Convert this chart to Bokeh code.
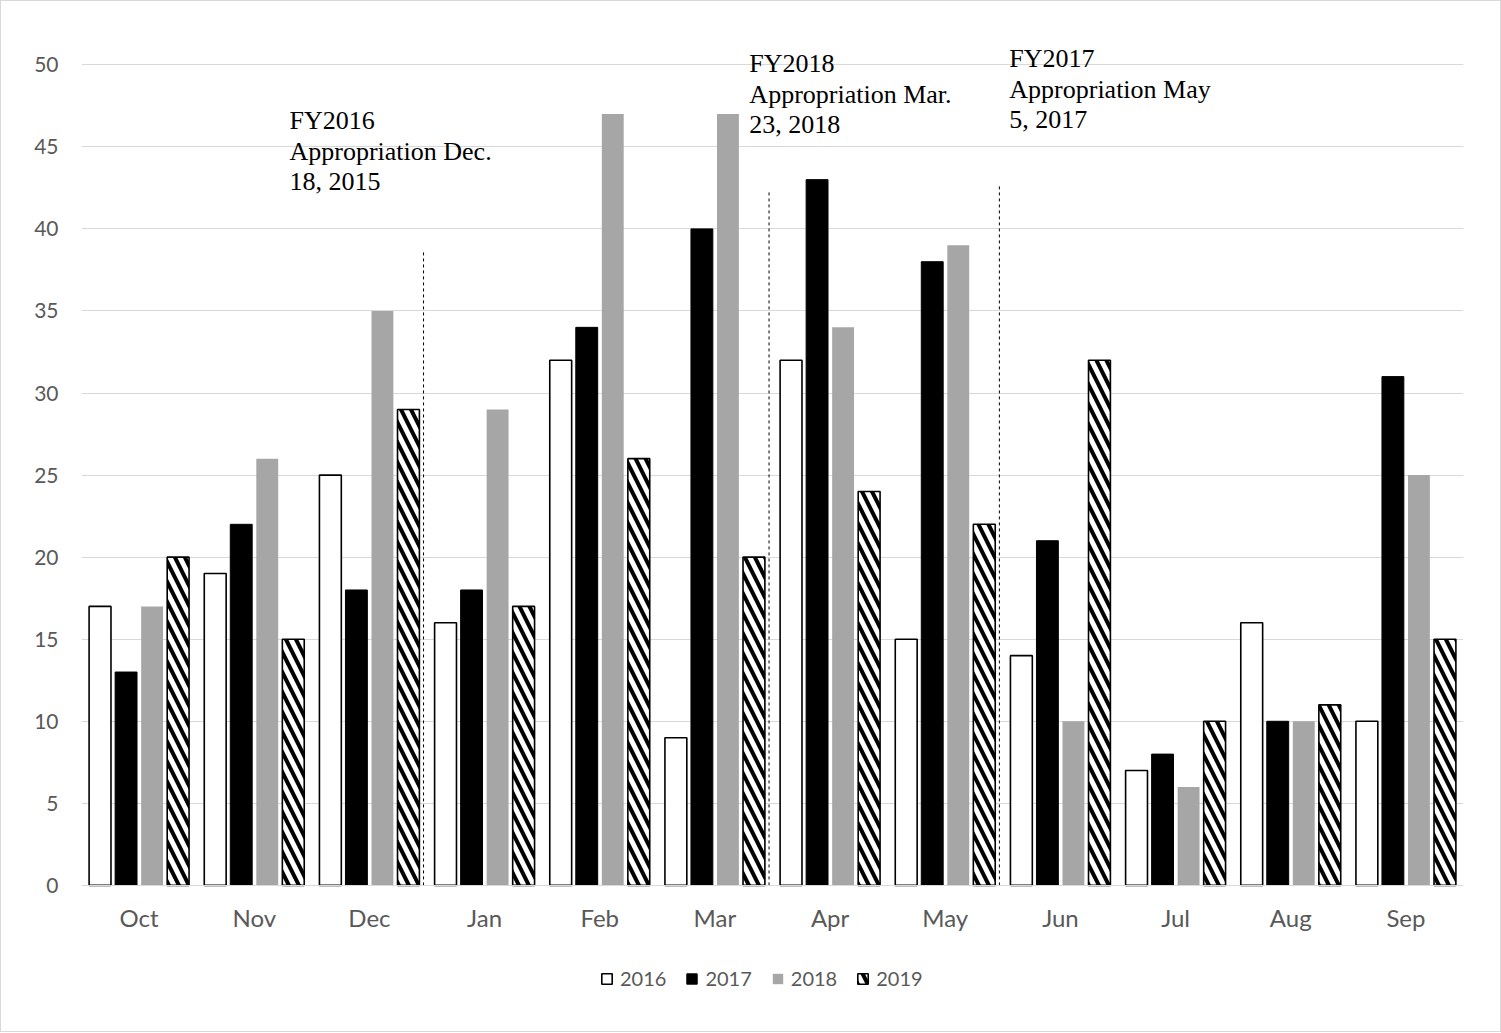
from bokeh.plotting import figure
from bokeh.models import ColumnDataSource, FactorRange, Range1d, FixedTicker, Legend, LegendItem
from bokeh.transform import dodge
from bokeh.core.properties import value
from bokeh.embed import file_html
from bokeh.resources import INLINE

# ---------------- data ----------------
months = ["Oct", "Nov", "Dec", "Jan", "Feb", "Mar", "Apr", "May", "Jun", "Jul", "Aug", "Sep"]
years = ["2016", "2017", "2018", "2019"]
v2016 = [17, 19, 25, 16, 32, 9, 32, 15, 14, 7, 16, 10]
v2017 = [13, 22, 18, 18, 34, 40, 43, 38, 21, 8, 10, 31]
v2018 = [17, 26, 35, 29, 47, 47, 34, 39, 10, 6, 10, 25]
v2019 = [20, 15, 29, 17, 26, 20, 24, 22, 32, 10, 11, 15]
y_ticks = [0, 5, 10, 15, 20, 25, 30, 35, 40, 45, 50]

# appropriation notes (marker drawn after the given month)
note_after = ["Dec", "Mar", "May"]
note_lines = [
    ["FY2016", "Appropriation Dec.", "18, 2015"],
    ["FY2018", "Appropriation Mar.", "23, 2018"],
    ["FY2017", "Appropriation May", "5, 2017"],
]

# ---------------- figure ----------------
src = ColumnDataSource(dict(month=months, v2016=v2016, v2017=v2017, v2018=v2018, v2019=v2019))

# frame extends below zero so that the legend can sit under the month labels
p = figure(x_range=FactorRange(*months, range_padding=0), y_range=Range1d(-8.9, 53),
           frame_width=1382, frame_height=1016,
           min_border_left=80, min_border_right=37, min_border_top=14, min_border_bottom=0,
           output_backend="svg", toolbar_location=None)
p.styles = {"border": "1px solid #d9d9d9"}
p.outline_line_color = None
p.background_fill_color = "white"
p.border_fill_color = "white"

p.xgrid.grid_line_color = None
p.ygrid.grid_line_color = "#d9d9d9"
p.ygrid.grid_line_width = 1

p.yaxis.ticker = FixedTicker(ticks=y_ticks)
p.yaxis.axis_line_color = None
p.yaxis.major_tick_line_color = None
p.yaxis.major_tick_out = 0
p.yaxis.major_tick_in = 0
p.yaxis.minor_tick_line_color = None
p.yaxis.minor_tick_out = 0
p.yaxis.major_label_text_font = "Lato"
p.yaxis.major_label_text_font_size = "21px"
p.yaxis.major_label_text_color = "#595959"
p.yaxis.major_label_standoff = 23

p.xaxis.fixed_location = 0
p.xaxis.axis_line_color = "#d9d9d9"
p.xaxis.major_tick_line_color = None
p.xaxis.major_tick_out = 0
p.xaxis.major_tick_in = 0
p.xaxis.minor_tick_line_color = None
p.xaxis.major_label_text_font = "Lato"
p.xaxis.major_label_text_font_size = "24px"
p.xaxis.major_label_text_color = "#595959"
p.xaxis.major_label_standoff = 18

bw = 0.19
offs = [-0.339, -0.113, 0.113, 0.339]
r16 = p.vbar(x=dodge("month", offs[0], range=p.x_range), top="v2016", width=bw, source=src,
             fill_color="white", line_color="black", line_width=1.6)
r17 = p.vbar(x=dodge("month", offs[1], range=p.x_range), top="v2017", width=bw, source=src,
             fill_color="black", line_color="black", line_width=1)
r18 = p.vbar(x=dodge("month", offs[2], range=p.x_range), top="v2018", width=bw, source=src,
             fill_color="#a6a6a6", line_color=None)
r19 = p.vbar(x=dodge("month", offs[3], range=p.x_range), top="v2019", width=bw, source=src,
             fill_color="white", line_color="black", line_width=1.6,
             hatch_pattern="\\", hatch_color="black", hatch_scale=20, hatch_weight=4)

# dashed appropriation markers
seg_x = [months.index(m) + 1 - 0.03 for m in note_after]
seg_top = [38.7, 42.4, 42.7]
p.segment(x0=seg_x, y0=[0] * 3, x1=seg_x, y1=seg_top, line_color="black",
          line_width=1, line_dash="3 3")

# note texts
text_x0 = [1.806, 5.799, 8.056]
text_y0 = [46.59, 50.06, 50.35]
line_step = 1.85
tx, ty, tt = [], [], []
for x0, y0, lines in zip(text_x0, text_y0, note_lines):
    for i, ln in enumerate(lines):
        tx.append(x0)
        ty.append(y0 - i * line_step)
        tt.append(ln)
p.text(x=tx, y=ty, text=tt, text_font=value("Liberation Serif"), text_font_size="26px",
       text_baseline="middle", text_align="left", text_color="black")

legend = Legend(items=[LegendItem(label=y, renderers=[r]) for y, r in zip(years, [r16, r17, r18, r19])],
                orientation="horizontal", location=(519, 41), border_line_color=None,
                background_fill_alpha=0, label_text_font="Lato", label_text_font_size="20px",
                label_text_color="#595959", glyph_width=13, glyph_height=13, spacing=19,
                label_standoff=7, padding=0, margin=0)
p.add_layout(legend, "center")

open("out.html", "w").write(file_html(p, INLINE))
